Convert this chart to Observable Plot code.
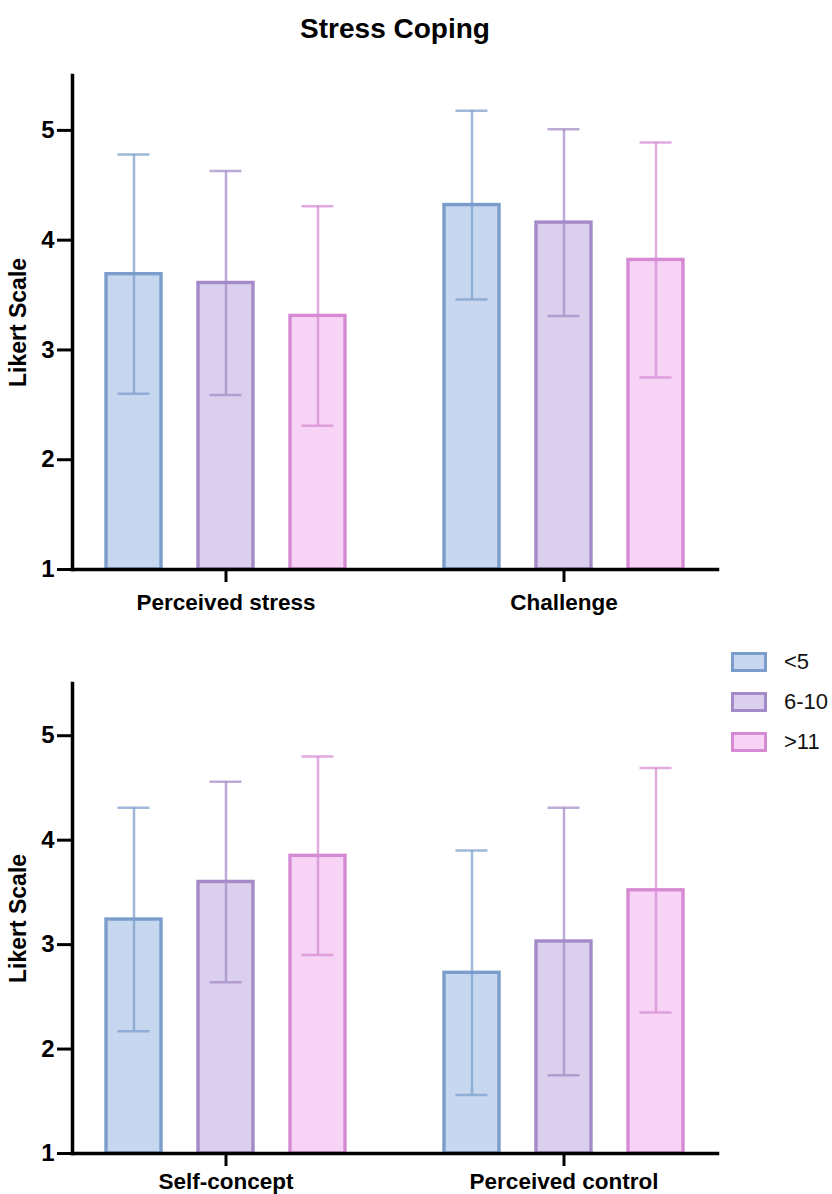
<!DOCTYPE html>
<html>
<head>
<meta charset="utf-8">
<script src="https://cdn.jsdelivr.net/npm/d3@7"></script>
<script src="https://cdn.jsdelivr.net/npm/@observablehq/plot@0.6"></script>
<style>
  body { margin: 0; background: #fff; font-family: Arial, "Liberation Sans", Helvetica, sans-serif; }
  #wrap { position: relative; width: 832px; height: 1194px; overflow: hidden; }
  #title { position: absolute; left: 0; top: 0; width: 790px; height: 58px; line-height: 58px; text-align: center; font-weight: bold; font-size: 28px; color: #000; }
  #top { position: absolute; left: 0; top: 60px; }
  #bottom { position: absolute; left: 0; top: 624px; }
  #legend { position: absolute; left: 731px; top: 642px; }
  .item { display: flex; align-items: center; height: 40px; }
  .sw { width: 30px; height: 14px; border: 3px solid; margin-right: 17px; }
  .lab { font-size: 22px; color: #111; }
</style>
</head>
<body>
<div id="wrap">
  <div id="title">Stress Coping</div>
  <div id="top"></div>
  <div id="bottom"></div>
  <div id="legend"></div>
</div>
<script>
// ---- data ----
const groups = ["<5", "6-10", ">11"];
const fillColors = ["#c7d7ef", "#dacfec", "#f7d3f5"];
const strokeColors = ["#7b9dcb", "#a48ac8", "#d68ad3"];

const topCategories = ["Perceived stress", "Challenge"];
const topMeans = [[3.69, 3.61, 3.31], [4.32, 4.16, 3.82]];
const topSD = [[1.09, 1.02, 1.00], [0.86, 0.85, 1.07]];

const bottomCategories = ["Self-concept", "Perceived control"];
const bottomMeans = [[3.24, 3.60, 3.85], [2.73, 3.03, 3.52]];
const bottomSD = [[1.07, 0.96, 0.95], [1.17, 1.28, 1.17]];

const yTicks = [1, 2, 3, 4, 5];
const yLabel = "Likert Scale";

function rows(categories, means, sds) {
  return categories.flatMap((c, i) => groups.map((g, j) => ({
    category: c, group: g, gi: j, mean: means[i][j], sd: sds[i][j]
  })));
}

function panel(categories, means, sds, {height, marginTop, marginBottom, labelPad}) {
  const data = rows(categories, means, sds);
  const fill = {value: d => fillColors[d.gi], scale: null};
  const stroke = {value: d => strokeColors[d.gi], scale: null};
  return Plot.plot({
    width: 832,
    height,
    marginLeft: 72,
    marginRight: 115,
    marginTop,
    marginBottom,
    style: {fontFamily: "Arial, 'Liberation Sans', Helvetica, sans-serif", fontSize: "20px", background: "transparent", color: "#000", overflow: "visible"},
    fx: {domain: categories, paddingInner: 0.092, paddingOuter: 0, label: null},
    x: {domain: groups, axis: null, paddingInner: 0.405, paddingOuter: 0.362},
    y: {domain: [1, 5.5], label: null},
    marks: [
      Plot.barY(data, {fx: "category", x: "group", y1: 1, y2: "mean", fill, stroke, strokeWidth: 3.4}),
      Plot.ruleX(data, {fx: "category", x: "group", y1: d => d.mean - d.sd, y2: d => d.mean + d.sd, stroke, strokeWidth: 2.5, strokeOpacity: 0.72}),
      Plot.tickY(data, {fx: "category", x: "group", y: d => d.mean + d.sd, stroke, strokeWidth: 2.5, strokeOpacity: 0.72, inset: 11.5}),
      Plot.tickY(data, {fx: "category", x: "group", y: d => d.mean - d.sd, stroke, strokeWidth: 2.5, strokeOpacity: 0.72, inset: 11.5}),
      Plot.axisY({ticks: yTicks, tickFormat: d3.format("d"), tickSize: 15, tickPadding: 3, strokeWidth: 3, fontSize: 24, fontWeight: "bold", label: null}),
      Plot.axisFx({anchor: "bottom", tickSize: 13, tickPadding: labelPad, strokeWidth: 3, fontSize: 22.5, fontWeight: "bold", label: null}),
      Plot.frame({anchor: "left", facet: "super", stroke: "#000", strokeWidth: 3.5}),
      Plot.frame({anchor: "bottom", facet: "super", stroke: "#000", strokeWidth: 3.5}),
      Plot.text([yLabel], {facet: "super", frameAnchor: "left", rotate: -90, textAnchor: "middle", lineAnchor: "middle", dx: -54, fontSize: 23, fontWeight: "bold", fill: "#000"})
    ]
  });
}

document.getElementById("top").append(panel(topCategories, topMeans, topSD, {height: 564, marginTop: 15, marginBottom: 55, labelPad: 12}));
document.getElementById("bottom").append(panel(bottomCategories, bottomMeans, bottomSD, {height: 570, marginTop: 59, marginBottom: 41, labelPad: 7}));

const legend = document.getElementById("legend");
groups.forEach((g, i) => {
  const item = document.createElement("div");
  item.className = "item";
  const sw = document.createElement("div");
  sw.className = "sw";
  sw.style.background = fillColors[i];
  sw.style.borderColor = strokeColors[i];
  const lab = document.createElement("span");
  lab.className = "lab";
  lab.textContent = g;
  item.append(sw, lab);
  legend.append(item);
});
</script>
</body>
</html>
